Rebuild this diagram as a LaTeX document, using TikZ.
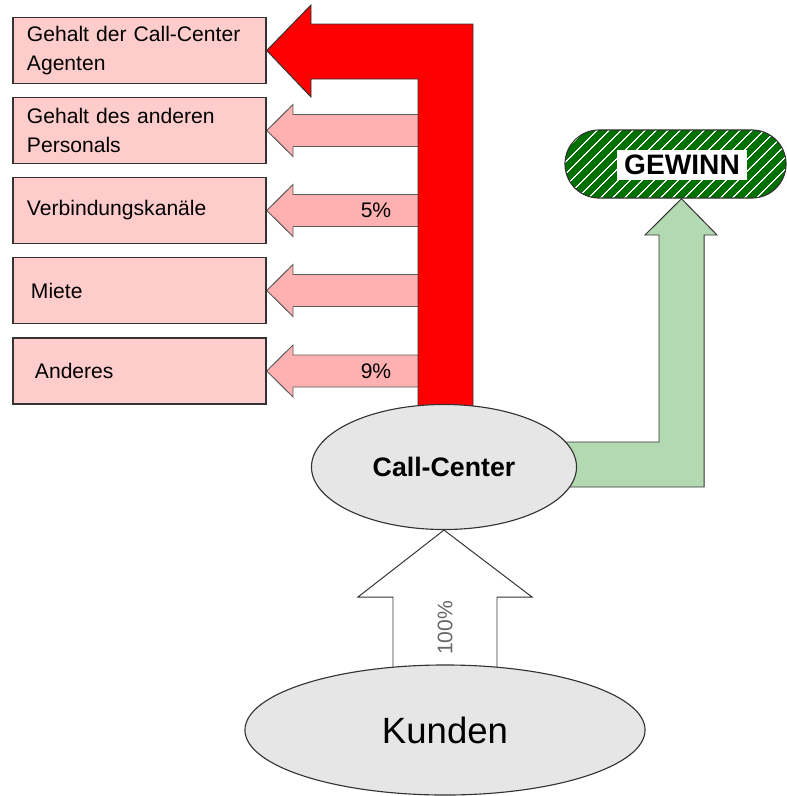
\documentclass[tikz,border=0pt]{standalone}
\usepackage{fontspec}
\setmainfont{Liberation Sans}
\usepackage{tikz}
\usetikzlibrary{shapes.geometric,calc,backgrounds,patterns.meta}

\definecolor{boxpink}{HTML}{FFCCCC}
\definecolor{arrowpink}{HTML}{FFB0B0}
\definecolor{flowred}{HTML}{FF0000}
\definecolor{ellgray}{HTML}{E6E6E6}
\definecolor{lightgreen}{HTML}{B3D9B3}
\definecolor{darkgreen}{HTML}{007000}
\definecolor{edgegray}{HTML}{333333}

\begin{document}
\begin{tikzpicture}[x=0.025cm, y=-0.025cm, line join=miter,
  costbox/.style={draw=edgegray, fill=boxpink, line width=1pt, minimum width=6.325cm,
    minimum height=1.65cm, text width=5.625cm, inner xsep=0.35cm, inner ysep=0pt,
    align=left, font=\fontsize{15}{20}\selectfont},
  costarrow/.style={draw=edgegray!80, fill=arrowpink, line width=0.7pt},
  mainflow/.style={draw=edgegray, fill=flowred, line width=0.7pt},
  profitflow/.style={draw=edgegray, fill=lightgreen, line width=0.7pt},
  inflow/.style={draw=edgegray, fill=white, line width=0.7pt},
  oval/.style={ellipse, draw=edgegray, fill=ellgray, line width=0.8pt, inner sep=0pt},
  gewinnbox/.style={draw=edgegray, line width=0.8pt, rounded corners=0.85cm,
    minimum width=5.525cm, minimum height=1.7cm, preaction={fill=darkgreen},
    pattern={Lines[angle=45,distance=6.5pt,line width=1pt]}, pattern color=white},
  pct/.style={font=\fontsize{15}{18}\selectfont}]
\useasboundingbox (0,0) rectangle (787,796);

\foreach \n/\y/\txt in {b1/50.5/{Gehalt der Call-Center\\Agenten},
                        b2/130.5/{Gehalt des anderen\\Personals},
                        b3/210.5/Verbindungskanäle, b4/290.5/{\hspace*{0.1cm}Miete},
                        b5/371/{\hspace*{0.2cm}Anderes}}
  \node[costbox] (\n) at (139.5,\y) {\txt};

\node[oval, minimum width=6.625cm, minimum height=3.125cm,
  font=\fontsize{19}{22}\selectfont\bfseries] (cc) at (444,467) {Call-Center};
\node[oval, minimum width=10cm, minimum height=3.25cm,
  font=\fontsize{26}{30}\selectfont] (ku) at (445,730) {Kunden};
\node[gewinnbox] (gw) at (675.5,164) {};
\node[fill=white, minimum width=3.225cm, minimum height=0.75cm, inner sep=0pt,
  font=\fontsize{20}{24}\selectfont\bfseries] (gwtext) at (682,165) {GEWINN};
\coordinate (gwtip) at ($(gw.south)+(6,0)$);

\begin{scope}[on background layer]
\foreach \n/\y in {b2/130.5, b3/210.5, b4/290.5, b5/371}
  \draw[costarrow] (420,\y-16) -- (293,\y-16) -- (293,\y-26) -- (\n.east)
    -- (293,\y+26) -- (293,\y+16) -- (420,\y+16);
\node[pct] (p3) at (376,210.5) {5\%};
\node[pct] (p5) at (376,371) {9\%};
\draw[mainflow] (418,412) |- (311,79) -- (311,97) -- (b1.east) -- (311,5)
  -- (311,24) -| (473,412) -- cycle;
\draw[profitflow] ($(cc.east)+(-20,-25)$) -| (659,235) -- (645,235) -- (gwtip)
  -- (717,235) -- (704,235) |- ($(cc.east)+(-20,20)$) -- cycle;
\draw[inflow] (393,673) |- (358,597) -- (cc.south) -- (532,597) -| (497,673);
\node[pct, rotate=90, text=black!60] (p100) at (445,628) {100\%};
\end{scope}
\end{tikzpicture}
\end{document}
